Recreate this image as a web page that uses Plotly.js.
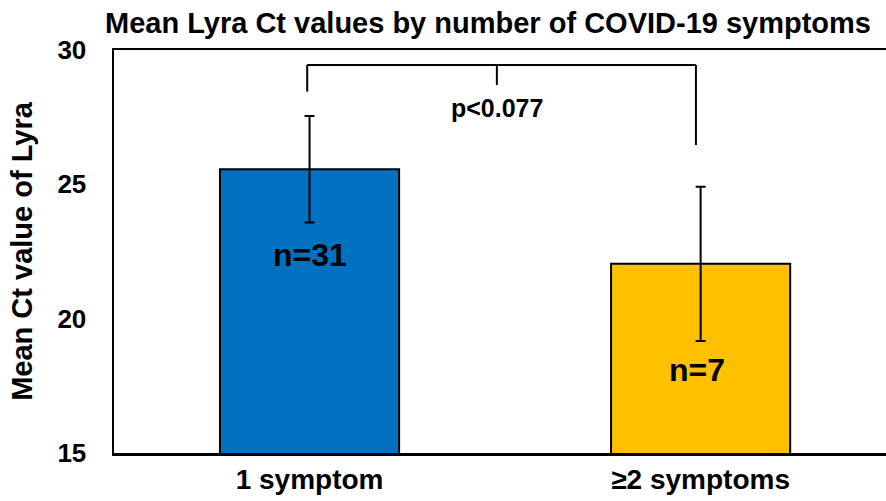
<!DOCTYPE html>
<html>
<head>
<meta charset="utf-8">
<script src="https://cdn.plot.ly/plotly-3.0.1.min.js"></script>
<style>html,body{margin:0;padding:0;background:#fff;}#chart{width:886px;height:501px;}</style>
</head>
<body>
<div id="chart"></div>
<script>
// Data
const categories = ["1 symptom", "\u22652 symptoms"];
const meanCt = [25.56, 22.04];
const sdCt = [1.98, 2.87];
const nLabels = ["n=31", "n=7"];
const nLabelY = [22.37, 18.09];
const pText = "p<0.077";
const yTicks = [15, 20, 25, 30];

const FONT = "Liberation Sans, Arial, sans-serif";

const trace = {
  type: "bar",
  x: [0, 1],
  y: meanCt,
  width: 0.458,
  marker: {color: ["#0070C0", "#FFC000"], line: {color: "#000", width: 2}},
  error_y: {type: "data", array: sdCt, visible: true, color: "#000", thickness: 2, width: 5},
  hoverinfo: "none"
};

// bracket (annotation geometry)
const bx0 = -0.006, bx1 = 0.988, bmid = 0.479;
const bTop = 29.44, bLeftBot = 28.45, bRightBot = 26.46, bMidBot = 28.7;
const lineStyle = {color: "#000", width: 2};
const shapes = [
  {type: "line", xref: "x", yref: "y", x0: bx0, x1: bx1, y0: bTop, y1: bTop, line: lineStyle},
  {type: "line", xref: "x", yref: "y", x0: bx0, x1: bx0, y0: bTop, y1: bLeftBot, line: lineStyle},
  {type: "line", xref: "x", yref: "y", x0: bx1, x1: bx1, y0: bTop, y1: bRightBot, line: lineStyle},
  {type: "line", xref: "x", yref: "y", x0: bmid, x1: bmid, y0: bTop, y1: bMidBot, line: lineStyle}
];

const annotations = [
  {x: bmid, y: 27.84, xref: "x", yref: "y", text: "<b>" + pText + "</b>", showarrow: false,
   font: {family: FONT, size: 25, color: "#000"}},
  {x: 0, y: nLabelY[0], xref: "x", yref: "y", text: "<b>" + nLabels[0] + "</b>", showarrow: false,
   font: {family: FONT, size: 32, color: "#000"}},
  {x: 0.99, y: nLabelY[1], xref: "x", yref: "y", text: "<b>" + nLabels[1] + "</b>", showarrow: false,
   font: {family: FONT, size: 32, color: "#000"}}
];

const layout = {
  width: 886, height: 501,
  margin: {l: 114, r: 0, t: 50, b: 48},
  paper_bgcolor: "#fff", plot_bgcolor: "#fff",
  showlegend: false,
  title: {
    text: "<b>Mean Lyra Ct values by number of COVID-19 symptoms</b>",
    font: {family: FONT, size: 29, color: "#000"},
    x: 488 / 886, xref: "container", xanchor: "center",
    y: 1 - 23 / 501, yref: "container", yanchor: "middle"
  },
  xaxis: {
    range: [-0.5, 1.474],
    tickvals: [0, 1],
    ticktext: categories.map(c => "<b>" + c + "</b>"),
    tickfont: {family: FONT, size: 28, color: "#000"},
    showline: true, mirror: true, linecolor: "#000", linewidth: 2.5,
    ticks: "", showgrid: false, zeroline: false, fixedrange: true
  },
  yaxis: {
    range: [15, 30],
    tickvals: yTicks,
    ticktext: yTicks.map(v => "<b>" + v + "</b>"),
    tickfont: {family: FONT, size: 26, color: "#000"},
    ticks: "outside", ticklen: 20, tickcolor: "rgba(0,0,0,0)",
    showline: true, linecolor: "#000", linewidth: 2.5,
    showgrid: false, zeroline: false,
    title: {text: "<b>Mean Ct value of Lyra</b>", font: {family: FONT, size: 29, color: "#000"}, standoff: 16}
  },
  shapes: shapes,
  annotations: annotations,
  bargap: 0.5
};

Plotly.newPlot("chart", [trace], layout, {displayModeBar: false, staticPlot: true});
</script>
</body>
</html>
